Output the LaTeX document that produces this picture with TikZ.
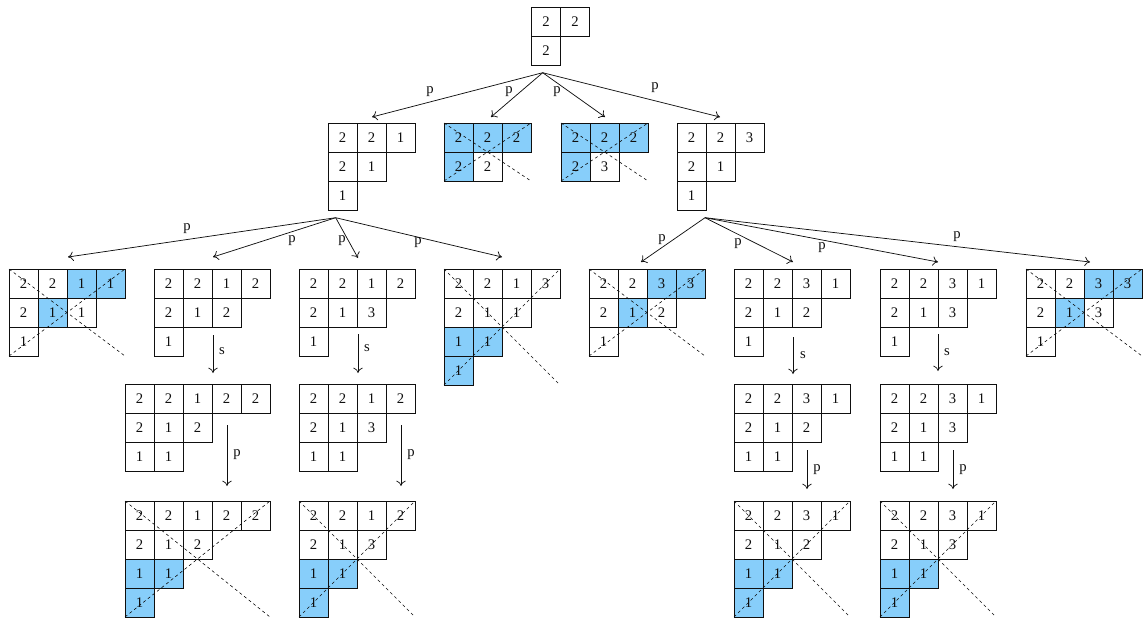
\documentclass[tikz,border=0pt]{standalone}
\usepackage{fontspec}
\setmainfont{Liberation Serif}
\usepackage{xcolor}
\usepackage{tikz}
\usetikzlibrary{arrows.meta, calc}
\definecolor{ytblue}{RGB}{135,206,250}
\definecolor{ytdark}{RGB}{15,15,15}

\begin{document}
\begin{tikzpicture}[x=0.75pt, y=-0.75pt]
\useasboundingbox (0,0) rectangle (1147,618);
\tikzset{
  cellnum/.style={ytdark, font=\fontsize{11}{13}\selectfont, inner sep=0pt},
  edgelbl/.style={ytdark, font=\fontsize{11}{13}\selectfont, inner sep=0pt},
  move/.style={ytdark, -{To[length=4pt,width=7pt]}, line width=0.55pt},
  diag/.style={ytdark, dash pattern=on 2.2pt off 2.2pt, line width=0.45pt}
}
% tableau: name, left, top, rows
\def\ytab#1#2#3#4{%
  \foreach \row [count=\rw] in {#4}{
    \foreach \v [count=\cl] in \row{
      \draw[ytdark, line width=0.6pt] (#2+\cl*29-29, #3+\rw*29-29) rectangle ++(29,29);
      \node[cellnum] (#1-\rw-\cl) at (#2+\cl*29-14.5, #3+\rw*29-14.5) {\v};
    }
  }
}
% blue cells: left, top, col/row list
\def\ytfill#1#2#3{%
  \foreach \cl/\rw in {#3}{
    \fill[ytblue] (#1+\cl*29-29, #2+\rw*29-29) rectangle ++(29,29);
  }
}
% dashed diagonals: left, top, cols, rows
\def\ytcross#1#2#3#4{%
  \draw[diag] (#1,#2) -- ++(#3*29,#4*29);
  \draw[diag] (#1,#2+#4*29) -- ++(#3*29,-#4*29);
}

% ---- root ----
\ytab{R}{531.5}{7}{{2,2},{2}}

% ---- level 1 ----
\ytab{A}{328}{123}{{2,2,1},{2,1},{1}}
\ytfill{444}{123}{1/1,2/1,3/1,1/2}
\ytab{B}{444}{123}{{2,2,2},{2,2}}
\ytcross{444}{123}{3}{2}
\ytfill{561}{123}{1/1,2/1,3/1,1/2}
\ytab{C}{561}{123}{{2,2,2},{2,3}}
\ytcross{561}{123}{3}{2}
\ytab{D}{677}{123}{{2,2,3},{2,1},{1}}

% ---- level 2 ----
\ytfill{9}{269}{3/1,4/1,2/2}
\ytab{E}{9}{269}{{2,2,1,1},{2,1,1},{1}}
\ytcross{9}{269}{4}{3}
\ytab{F}{154}{269}{{2,2,1,2},{2,1,2},{1}}
\ytab{G}{299}{269}{{2,2,1,2},{2,1,3},{1}}
\ytfill{444}{269}{1/3,2/3,1/4}
\ytab{H}{444}{269}{{2,2,1,3},{2,1,1},{1,1},{1}}
\ytcross{444}{269}{4}{4}
\ytfill{589}{269}{3/1,4/1,2/2}
\ytab{I}{589}{269}{{2,2,3,3},{2,1,2},{1}}
\ytcross{589}{269}{4}{3}
\ytab{J}{734}{269}{{2,2,3,1},{2,1,2},{1}}
\ytab{K}{880}{269}{{2,2,3,1},{2,1,3},{1}}
\ytfill{1026}{269}{3/1,4/1,2/2}
\ytab{L}{1026}{269}{{2,2,3,3},{2,1,3},{1}}
\ytcross{1026}{269}{4}{3}

% ---- after s ----
\ytab{F2}{125}{384}{{2,2,1,2,2},{2,1,2},{1,1}}
\ytab{G2}{299}{384}{{2,2,1,2},{2,1,3},{1,1}}
\ytab{J2}{734}{384}{{2,2,3,1},{2,1,2},{1,1}}
\ytab{K2}{880}{384}{{2,2,3,1},{2,1,3},{1,1}}

% ---- after p ----
\ytfill{125}{501}{1/3,2/3,1/4}
\ytab{F3}{125}{501}{{2,2,1,2,2},{2,1,2},{1,1},{1}}
\ytcross{125}{501}{5}{4}
\ytfill{299}{501}{1/3,2/3,1/4}
\ytab{G3}{299}{501}{{2,2,1,2},{2,1,3},{1,1},{1}}
\ytcross{299}{501}{4}{4}
\ytfill{734}{501}{1/3,2/3,1/4}
\ytab{J3}{734}{501}{{2,2,3,1},{2,1,2},{1,1},{1}}
\ytcross{734}{501}{4}{4}
\ytfill{880}{501}{1/3,2/3,1/4}
\ytab{K3}{880}{501}{{2,2,3,1},{2,1,3},{1,1},{1}}
\ytcross{880}{501}{4}{4}

% ---- arrow ends ----
\coordinate (R-out) at (542.7,72.7);
\coordinate (A-in) at (372,117);
\coordinate (B-in) at (491,117);
\coordinate (C-in) at (605,117);
\coordinate (D-in) at (720,117);
\coordinate (A-out) at (335.7,217.7);
\coordinate (E-in) at (68,257);
\coordinate (F-in) at (213,257);
\coordinate (G-in) at (358,258);
\coordinate (H-in) at (502,257);
\coordinate (D-out) at (705,217.7);
\coordinate (I-in) at (641,262);
\coordinate (J-in) at (793,262);
\coordinate (K-in) at (938,262);
\coordinate (L-in) at (1090,262);
\coordinate (F-out) at (213,335);   \coordinate (F2-in) at (213,373);
\coordinate (G-out) at (358,334);   \coordinate (G2-in) at (358,373);
\coordinate (J-out) at (793,337);   \coordinate (J2-in) at (793,374);
\coordinate (K-out) at (938,334);   \coordinate (K2-in) at (938,371);
\coordinate (F2-out) at (227,425);  \coordinate (F3-in) at (227,486);
\coordinate (G2-out) at (401,425);  \coordinate (G3-in) at (401,486);
\coordinate (J2-out) at (807,450);  \coordinate (J3-in) at (807,489);
\coordinate (K2-out) at (953,450);  \coordinate (K3-in) at (953,489);

% ---- arrows ----
\foreach \a/\b in {R/A, R/B, R/C, R/D, A/E, A/F, A/G, A/H, D/I, D/J, D/K, D/L,
                   F/F2, G/G2, J/J2, K/K2, F2/F3, G2/G3, J2/J3, K2/K3}{
  \draw[move] (\a-out) -- (\b-in);
}

% ---- labels ----
\foreach \n/\x/\y/\t in {pA/430/92/p, pB/509/92/p, pC/557/92/p, pD/655/88/p,
    pE/187/229/p, pF/292/241/p, pG/342/241/p, pH/418/243/p,
    pI/662/240/p, pJ/738/244/p, pK/822/248/p, pL/957/237/p,
    sF/222/351/s, sG/367/348/s, sJ/803/355/s, sK/947/352/s,
    pF3/237/455/p, pG3/411/455/p, pJ3/817/470/p, pK3/963/470/p}{
  \node[edgelbl] (\n) at (\x,\y) {\t};
}
\end{tikzpicture}
\end{document}
